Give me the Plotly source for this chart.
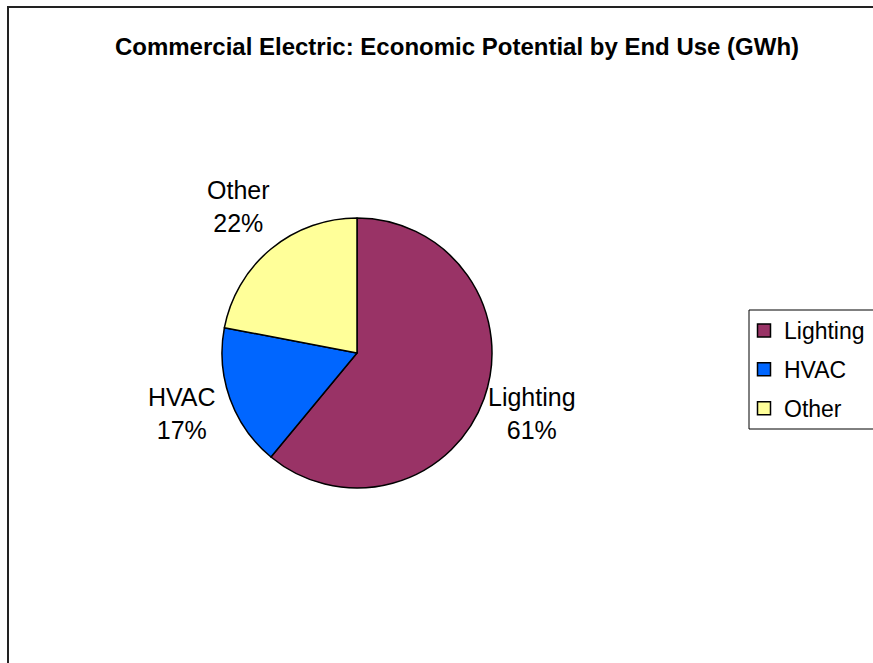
import math
import plotly.graph_objects as go

# End-use shares of commercial electric economic potential
categories = ["Lighting", "HVAC", "Other"]
values = [61, 17, 22]
colors = ["#993366", "#0066FF", "#FFFF99"]

title_text = "Commercial Electric: Economic Potential by End Use (GWh)"

W, H = 873, 663
# pie placement in pixels (center and radius)
cx, cy, r = 357, 353, 135
label_dist = 1.38
label_lift = 3  # px, small upward nudge of the slice labels
FONT = "Liberation Sans, Arial"

fig = go.Figure(
    go.Pie(
        labels=categories,
        values=values,
        sort=False,
        direction="clockwise",
        rotation=0,
        marker=dict(colors=colors, line=dict(color="#000000", width=1.5)),
        textinfo="none",
        hoverinfo="label+percent",
        showlegend=False,
        domain=dict(x=[(cx - r) / W, (cx + r) / W], y=[1 - (cy + r) / H, 1 - (cy - r) / H]),
    )
)

# legend entries (square swatches), one group per category for extra spacing
for name, c in zip(categories, colors):
    fig.add_trace(
        go.Scatter(
            x=[None], y=[None], mode="markers", name=name, legendgroup=name,
            marker=dict(symbol="square", size=13, color=c, line=dict(color="#000000", width=1.5)),
            hoverinfo="skip",
        )
    )

# slice labels placed along each slice's mid-angle
total = sum(values)
cum = 0.0
annotations = []
for name, v in zip(categories, values):
    mid = cum + v / 2
    cum += v
    ang = math.radians(90 - 360 * mid / total)
    px = cx + label_dist * r * math.cos(ang)
    py = cy - label_dist * r * math.sin(ang) - label_lift
    pct = round(100 * v / total)
    annotations.append(
        dict(
            x=px / W, y=1 - py / H, xref="paper", yref="paper",
            text=f"{name}<br>{pct}%", showarrow=False,
            font=dict(family=FONT, size=25, color="#000000"),
            align="center", xanchor="center", yanchor="middle",
        )
    )

fig.update_layout(
    width=W, height=H,
    margin=dict(l=0, r=0, t=0, b=0, autoexpand=False),
    paper_bgcolor="#FFFFFF",
    plot_bgcolor="rgba(0,0,0,0)",
    xaxis=dict(visible=False),
    yaxis=dict(visible=False),
    title=dict(
        text=f"<b>{title_text}</b>",
        x=457 / W, xanchor="center", y=1 - 47 / H, yanchor="middle",
        font=dict(family=FONT, size=24, color="#000000"),
    ),
    annotations=annotations,
    showlegend=True,
    legend=dict(
        x=744 / W, y=1 - 309 / H, xanchor="left", yanchor="top",
        borderwidth=0, bgcolor="rgba(0,0,0,0)",
        font=dict(family=FONT, size=23, color="#000000"),
        itemwidth=30, tracegroupgap=6,
    ),
    shapes=[
        # chart frame
        dict(
            type="rect", xref="paper", yref="paper",
            x0=8 / W, x1=1.2, y0=-0.2, y1=1 - 7 / H,
            line=dict(color="#222222", width=2), layer="below",
        ),
        # legend box
        dict(
            type="rect", xref="paper", yref="paper",
            x0=749 / W, x1=1.05, y0=1 - 429 / H, y1=1 - 310 / H,
            line=dict(color="#000000", width=1), fillcolor="#FFFFFF", layer="below",
        ),
    ],
)

fig.write_html("out.html")
